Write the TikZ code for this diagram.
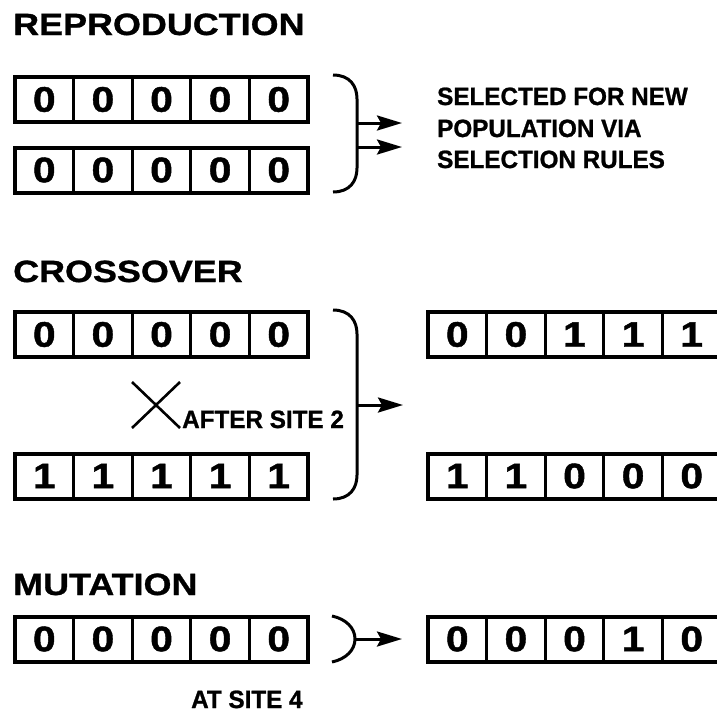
\documentclass[tikz,border=0pt]{standalone}
\usepackage{fontspec}
\setmainfont{Liberation Sans}
\newfontfamily\hdfont[FakeStretch=1.17,FakeBold=1]{Liberation Sans}
\newfontfamily\dgfont[FakeStretch=1.15,FakeBold=1.2]{Liberation Sans}
\newfontfamily\ntfont[FakeStretch=0.97,FakeBold=1]{Liberation Sans}
\usetikzlibrary{arrows.meta}

\tikzset{
  cell/.style={draw, line width=3pt, minimum width=58.6pt, minimum height=45pt,
    inner sep=0pt, outer sep=0pt, font=\dgfont\bfseries\fontsize{35.5}{40}\selectfont},
  outerbox/.style={line width=4pt},
  header/.style={anchor=base west, inner sep=0pt, font=\hdfont\bfseries\fontsize{30.7}{36}\selectfont},
  note/.style={anchor=base west, inner sep=0pt, font=\ntfont\bfseries\fontsize{25}{31.5}\selectfont},
  brk/.style={line width=3pt},
  arr/.style={line width=3pt, -{Stealth[length=25pt,width=15pt,inset=4pt]}},
  crossline/.style={line width=2.6pt},
}

\newcommand\bitrow[4]{%
  \foreach \d [count=\i] in {#4} {
    \node[cell] (#1-\i) at ({#2+(\i-0.5)*58.6},#3) {\d};
  }
  \draw[outerbox] (#1-1.north west) rectangle (#1-5.south east);
}

\begin{document}
\begin{tikzpicture}[x=1pt,y=-1pt]
\clip (0,0) rectangle (717,713);

% ---------- REPRODUCTION ----------
\node[header] (hrep) at (13,35) {REPRODUCTION};
\bitrow{ra}{15}{99.5}{0,0,0,0,0}
\bitrow{rb}{15}{170}{0,0,0,0,0}

\coordinate (b1t) at (333,75);
\coordinate (b1a) at (357,99);
\coordinate (b1b) at (357,168);
\coordinate (b1e) at (333,192);
\draw[brk] (b1t) .. controls (350,75) and (357,86) .. (b1a) -- (b1b)
  .. controls (357,181) and (350,192) .. (b1e);
\coordinate (a1s) at (357,123);
\coordinate (a1e) at (402,123);
\coordinate (a2s) at (357,147);
\coordinate (a2e) at (402,147);
\draw[arr] (a1s) -- (a1e);
\draw[arr] (a2s) -- (a2e);

\node[note] (sel1) at (437,105) {SELECTED FOR NEW};
\node[note] (sel2) at (437,137) {POPULATION VIA};
\node[note] (sel3) at (437,168) {SELECTION RULES};

% ---------- CROSSOVER ----------
\node[header] (hcross) at (13,282) {CROSSOVER};
\bitrow{ca}{15}{334.5}{0,0,0,0,0}
\bitrow{cb}{15}{476}{1,1,1,1,1}
\bitrow{cc}{428}{334.5}{0,0,1,1,1}
\bitrow{cd}{428}{476}{1,1,0,0,0}

\coordinate (x1) at (132,382);
\coordinate (x2) at (180,428);
\coordinate (x3) at (180,382);
\coordinate (x4) at (132,428);
\draw[crossline] (x1) -- (x2);
\draw[crossline] (x3) -- (x4);
\node[note] (after) at (182,428) {AFTER SITE 2};

\coordinate (b2t) at (333,310);
\coordinate (b2a) at (357,334);
\coordinate (b2b) at (357,475);
\coordinate (b2e) at (333,499);
\draw[brk] (b2t) .. controls (350,310) and (357,321) .. (b2a) -- (b2b)
  .. controls (357,488) and (350,499) .. (b2e);
\coordinate (a3s) at (357,405);
\coordinate (a3e) at (403,405);
\draw[arr] (a3s) -- (a3e);

% ---------- MUTATION ----------
\node[header] (hmut) at (13,595) {MUTATION};
\bitrow{ma}{15}{639}{0,0,0,0,0}
\bitrow{mb}{428}{639}{0,0,0,1,0}

\coordinate (b3t) at (332,616);
\coordinate (b3a) at (355,639);
\coordinate (b3e) at (332,662);
\draw[brk] (b3t) .. controls (346,619) and (355,628) .. (b3a)
  .. controls (355,650) and (346,659) .. (b3e);
\coordinate (a4e) at (402,639);
\draw[arr] (b3a) -- (a4e);

\node[note] (atsite) at (191,708) {AT SITE 4};
\end{tikzpicture}
\end{document}
